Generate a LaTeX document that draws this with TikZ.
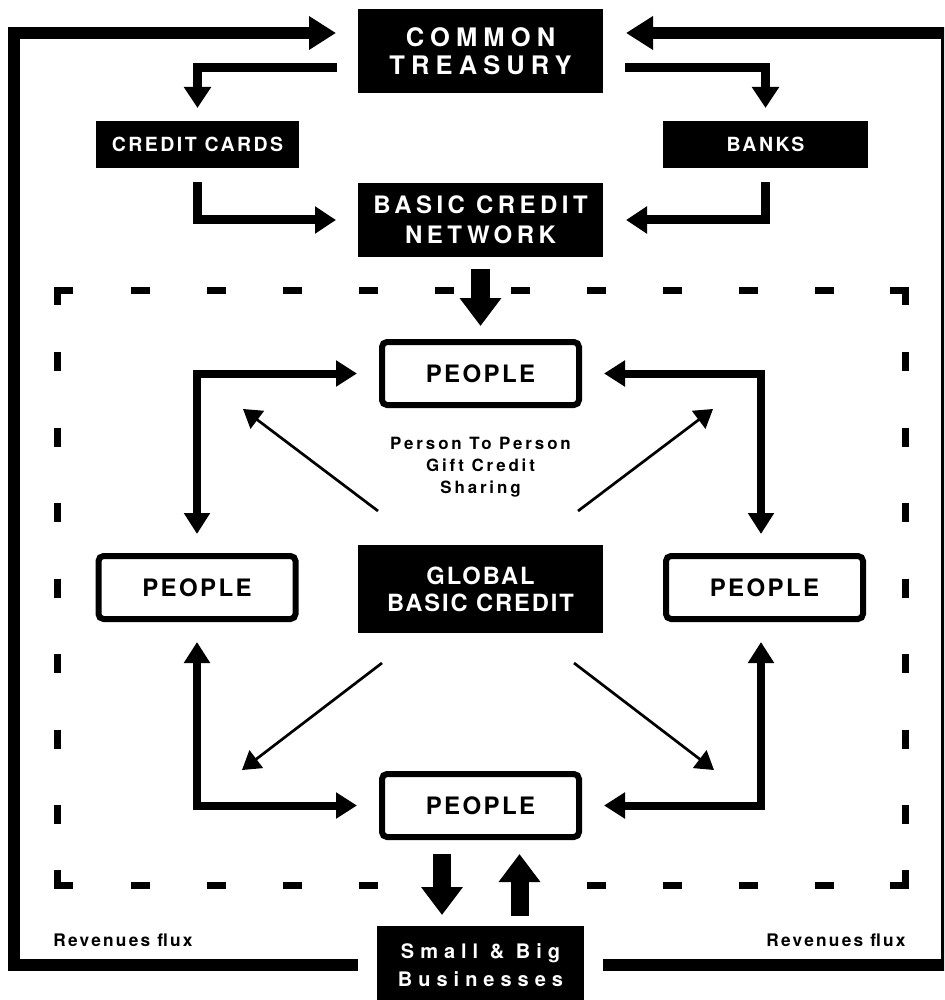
\documentclass[tikz,border=0pt]{standalone}
\usepackage{fontspec}
\setmainfont{TeX Gyre Heros}
\usetikzlibrary{arrows.meta}
\newcommand\fnt[3]{\bfseries\fontsize{#1}{#2}\selectfont\addfontfeature{LetterSpace=#3}}
\begin{document}
\begin{tikzpicture}[x=1pt,y=-1pt,
  blackbox/.style={fill=black,text=white,inner sep=0pt,outer sep=0pt,align=center},
  peoplebox/.style={draw=black,line width=6pt,rounded corners=5pt,fill=white,inner sep=0pt,
     align=center,minimum width=197pt,minimum height=63pt,font=\fnt{24}{28}{10}},
  revline/.style={line width=12pt,-{Triangle[length=27pt,width=32pt]}},
  feedarrow/.style={line width=9pt,-{Triangle[length=21pt,width=26pt]}},
  peoplelink/.style={line width=8pt,{Triangle[length=21pt,width=25pt]}-{Triangle[length=21pt,width=25pt]}},
  diagarrow/.style={line width=2.7pt,-{Triangle[length=18pt,width=22pt]}},
  fatarrow/.style={line width=18.5pt,-{Triangle[length=28pt,width=40pt]}},
  framedash/.style={line width=7pt}
]
\useasboundingbox (0,0) rectangle (944,1000);
\clip (0,0) rectangle (944,1000);

% dashed frame
\foreach \k in {0,...,9} {\draw[framedash] ({131+76*\k},290) -- ({150+76*\k},290);}
\foreach \k in {0,1,2,3,6,7,8,9} {\draw[framedash] ({131+76*\k},885) -- ({150+76*\k},885);}
\foreach \k in {0,...,6} {
  \draw[framedash] (57,{352+75.5*\k}) -- (57,{371+75.5*\k});
  \draw[framedash] (905.5,{352+75.5*\k}) -- (905.5,{371+75.5*\k});
}
\draw[framedash] (73,290) -- (57,290) -- (57,305);
\draw[framedash] (890,290) -- (905.5,290) -- (905.5,305);
\draw[framedash] (57,870) -- (57,885) -- (73,885);
\draw[framedash] (905.5,870) -- (905.5,885) -- (890,885);

% nodes
\node[blackbox,minimum width=245pt,minimum height=84pt,font=\fnt{25.5}{27.7}{24}] (treasury) at (480.5,51) {COMMON\\TREASURY};
\node[blackbox,minimum width=203pt,minimum height=47pt,font=\fnt{19.5}{22}{12.5}] (cc) at (197.5,144.5) {CREDIT CARDS};
\node[blackbox,minimum width=205pt,minimum height=47pt,font=\fnt{19.5}{22}{12.5}] (banks) at (765.5,144.5) {BANKS};
\node[blackbox,minimum width=245pt,minimum height=74pt,font=\fnt{24}{30}{18.5}] (bcn) at (480.5,220) {BASIC CREDIT\\NETWORK};
\node[blackbox,minimum width=245pt,minimum height=88pt,font=\fnt{23.7}{27}{8}] (global) at (480.5,589) {GLOBAL\\BASIC CREDIT};
\node[blackbox,minimum width=207pt,minimum height=78pt,font=\fnt{20}{28}{30}] (bus) at (480.5,965) {Small \& Big\\Businesses};

\node[peoplebox] (ptop) at (480.5,373.5) {PEOPLE};
\node[peoplebox] (pleft) at (197,587.5) {PEOPLE};
\node[peoplebox] (pright) at (764.5,587.5) {PEOPLE};
\node[peoplebox] (pbot) at (480.5,805.5) {PEOPLE};

\node[align=center,font=\fnt{16.9}{22}{17}] (p2p) at (480.5,467) {Person To Person\\Gift Credit\\Sharing};
\node[font=\fnt{17.3}{20}{13}] (revl) at (123,940) {Revenues flux};
\node[font=\fnt{17.3}{20}{13}] (revr) at (836,940) {Revenues flux};

% revenue loops
\coordinate (lbot) at (14,965);
\coordinate (ltop) at (14,33);
\coordinate (rbot) at (947,965);
\coordinate (rtop) at (947,33);
\draw[revline,shorten <=19pt,shorten >=22pt] (bus.west) -- (lbot) -- (ltop) -- ([yshift=18pt]treasury.west);
\draw[revline,shorten <=19pt,shorten >=23pt] (bus.east) -- (rbot) -- (rtop) -- ([yshift=18pt]treasury.east);

% treasury flows
\draw[feedarrow,shorten <=21pt,shorten >=13pt] ([yshift=-16.5pt]treasury.west) -| (cc.north);
\draw[feedarrow,shorten <=22pt,shorten >=13pt] ([yshift=-16.5pt]treasury.east) -| (banks.north);
\draw[feedarrow,shorten <=14pt,shorten >=22pt] (cc.south) |- (bcn.west);
\draw[feedarrow,shorten <=14pt,shorten >=23pt] (banks.south) |- (bcn.east);

\draw[fatarrow,line width=19pt,shorten <=12pt,shorten >=13pt] (bcn.south) -- (ptop.north);

% people links
\draw[peoplelink,shorten <=22pt,shorten >=19pt] (ptop.west) -| (pleft.north);
\draw[peoplelink,shorten <=22pt,shorten >=19pt] (ptop.east) -| ([xshift=-3.5pt]pright.north);
\draw[peoplelink,shorten <=22pt,shorten >=20pt] (pbot.west) -| (pleft.south);
\draw[peoplelink,shorten <=22pt,shorten >=20pt] (pbot.east) -| ([xshift=-3.5pt]pright.south);

% diagonals
\coordinate (d1a) at (378,511); \coordinate (d1b) at (243,409);
\coordinate (d2a) at (578,511); \coordinate (d2b) at (713,409);
\coordinate (d3a) at (382,663); \coordinate (d3b) at (242,770);
\coordinate (d4a) at (574,663); \coordinate (d4b) at (714,770);
\draw[diagarrow] (d1a) -- (d1b);
\draw[diagarrow] (d2a) -- (d2b);
\draw[diagarrow] (d3a) -- (d3b);
\draw[diagarrow] (d4a) -- (d4b);

% businesses
\draw[fatarrow,line width=18pt,shorten <=14pt,shorten >=11pt] ([xshift=-38.5pt]pbot.south) -- ([xshift=-38.5pt]bus.north);
\draw[fatarrow,line width=18pt,shorten <=10pt,shorten >=14pt] ([xshift=39pt]bus.north) -- ([xshift=39pt]pbot.south);
\end{tikzpicture}
\end{document}
